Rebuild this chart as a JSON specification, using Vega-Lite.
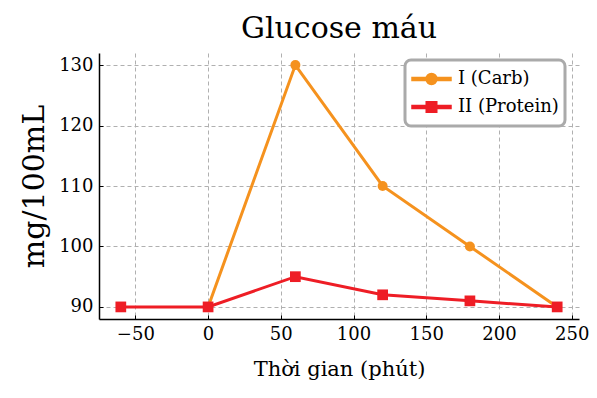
{
  "$schema": "https://vega.github.io/schema/vega-lite/v6.json",
  "autosize": {"type": "none"},
  "width": 480,
  "height": 266,
  "padding": {"left": 99, "top": 53, "right": 18, "bottom": 79},
  "background": "white",
  "title": {"text": "Glucose máu", "font": "DejaVu Serif", "fontSize": 30, "fontWeight": "normal", "color": "black", "anchor": "middle", "offset": 9},
  "config": {
    "view": {"stroke": null},
    "font": "DejaVu Serif",
    "axis": {
      "labelFont": "DejaVu Serif", "labelFontSize": 18, "labelColor": "black",
      "titleFont": "DejaVu Serif", "titleFontWeight": "normal", "titleColor": "black",
      "domainColor": "black", "domainWidth": 1.5,
      "tickColor": "black", "tickSize": -4, "tickWidth": 1,
      "gridColor": "#b0b0b0", "gridDash": [4, 3], "gridWidth": 1
    },
    "legend": {
      "labelFont": "DejaVu Serif", "labelFontSize": 18, "labelColor": "black",
      "orient": "none", "legendX": 306, "legendY": 7, "title": null,
      "padding": 6, "clipHeight": 26, "rowPadding": 2, "labelOffset": 6,
      "symbolSize": 1521, "strokeColor": "#aaaaaa", "strokeWidth": 3, "cornerRadius": 6, "fillColor": "white"
    }
  },
  "data": {"values": [
    {"t": 0, "value": 90, "series": "I (Carb)"},
    {"t": 60, "value": 130, "series": "I (Carb)"},
    {"t": 120, "value": 110, "series": "I (Carb)"},
    {"t": 180, "value": 100, "series": "I (Carb)"},
    {"t": 240, "value": 90, "series": "I (Carb)"},
    {"t": -60, "value": 90, "series": "II (Protein)"},
    {"t": 0, "value": 90, "series": "II (Protein)"},
    {"t": 60, "value": 95, "series": "II (Protein)"},
    {"t": 120, "value": 92, "series": "II (Protein)"},
    {"t": 180, "value": 91, "series": "II (Protein)"},
    {"t": 240, "value": 90, "series": "II (Protein)"}
  ]},
  "encoding": {
    "x": {"field": "t", "type": "quantitative",
      "scale": {"domain": [-75, 255], "nice": false, "zero": false},
      "axis": {"values": [-50, 0, 50, 100, 150, 200, 250], "title": "Thời gian (phút)", "titleFontSize": 21, "titlePadding": 15, "labelPadding": 10}},
    "y": {"field": "value", "type": "quantitative",
      "scale": {"domain": [88, 132], "nice": false, "zero": false},
      "axis": {"values": [90, 100, 110, 120, 130], "title": "mg/100mL", "titleFontSize": 30, "titlePadding": 9, "labelPadding": 10}}
  },
  "layer": [
    {
      "mark": {"type": "line", "strokeWidth": 3},
      "encoding": {"color": {"field": "series", "type": "nominal",
      "scale": {"domain": ["I (Carb)", "II (Protein)"], "range": ["#F5921E", "#EE1D25"]}}}
    },
    {
      "transform": [{"filter": "datum.series === 'I (Carb)'"}],
      "mark": {"type": "point", "shape": "circle", "filled": true, "opacity": 1, "size": 100},
      "encoding": {"color": {"field": "series", "type": "nominal"}}
    },
    {
      "transform": [{"filter": "datum.series === 'II (Protein)'"}],
      "mark": {"type": "point", "shape": "square", "filled": true, "opacity": 1, "size": 115},
      "encoding": {"color": {"field": "series", "type": "nominal"}}
    },
    {
      "transform": [{"filter": "false"}],
      "mark": {"type": "point", "filled": true, "opacity": 1},
      "encoding": {
        "color": {"field": "series", "type": "nominal"},
        "shape": {"field": "series", "type": "nominal",
          "scale": {"domain": ["I (Carb)", "II (Protein)"], "range": [
            "M-1,-0.08H1V0.08H-1Z M0.28,0A0.28,0.28 0 1,1 -0.28,0A0.28,0.28 0 1,1 0.28,0Z",
            "M-1,-0.08H1V0.08H-1Z M-0.27,-0.27H0.27V0.27H-0.27Z"
          ]}}
      }
    }
  ]
}
